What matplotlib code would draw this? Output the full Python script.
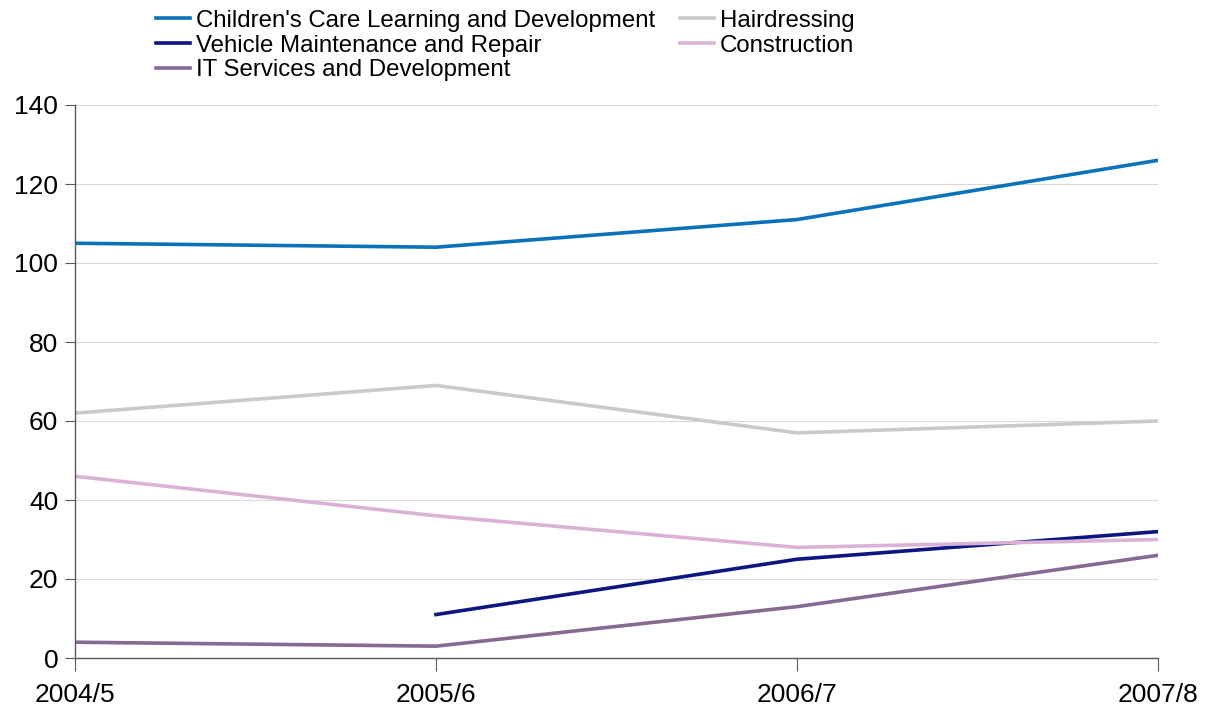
import numpy as np
import matplotlib.pyplot as plt

plt.rcParams['font.family'] = ['Liberation Sans', 'DejaVu Sans']

years = ["2004/5", "2005/6", "2006/7", "2007/8"]
childrens = [105, 104, 111, 126]
hairdressing = [62, 69, 57, 60]
vehicle = [np.nan, 11, 25, 32]
construction = [46, 36, 28, 30]
it_services = [4, 3, 13, 26]

fig = plt.figure(figsize=(12.12, 7.13), dpi=100)
ax = fig.add_axes([75 / 1212, 55 / 713, (1158 - 75) / 1212, (658 - 105) / 713])

x = np.arange(len(years))
l1, = ax.plot(x, childrens, color="#0a72ba", lw=2.6, label="Children's Care Learning and Development")
l2, = ax.plot(x, vehicle, color="#0c1580", lw=2.6, label="Vehicle Maintenance and Repair")
l5, = ax.plot(x, it_services, color="#876a91", lw=2.6, label="IT Services and Development")
l3, = ax.plot(x, hairdressing, color="#cacaca", lw=2.6, label="Hairdressing")
l4, = ax.plot(x, construction, color="#dbb2d6", lw=2.6, label="Construction")

ax.set_xlim(0, 3)
ax.set_ylim(0, 140)
ax.set_yticks(range(0, 141, 20))
ax.set_xticks(x)
ax.set_xticklabels(years)
ax.tick_params(axis='y', labelsize=19, direction='out', length=7, color="#595959", pad=5)
ax.tick_params(axis='x', labelsize=19, direction='out', length=9, color="#595959", pad=9)
ax.yaxis.grid(True, color="#d9d9d9", lw=0.8)
ax.set_axisbelow(True)
for s in ['top', 'right']:
    ax.spines[s].set_visible(False)
for s in ['left', 'bottom']:
    ax.spines[s].set_color("#595959")
    ax.spines[s].set_linewidth(1.0)

fig.legend(handles=[l1, l2, l5, l3, l4], loc='upper left', bbox_to_anchor=(143 / 1212, 1.005),
           ncol=2, frameon=False, fontsize=17.3, handlelength=1.4, handletextpad=0.25,
           labelspacing=0.12, columnspacing=1.05, borderaxespad=0.15)

fig.savefig("out.png", dpi=100)
